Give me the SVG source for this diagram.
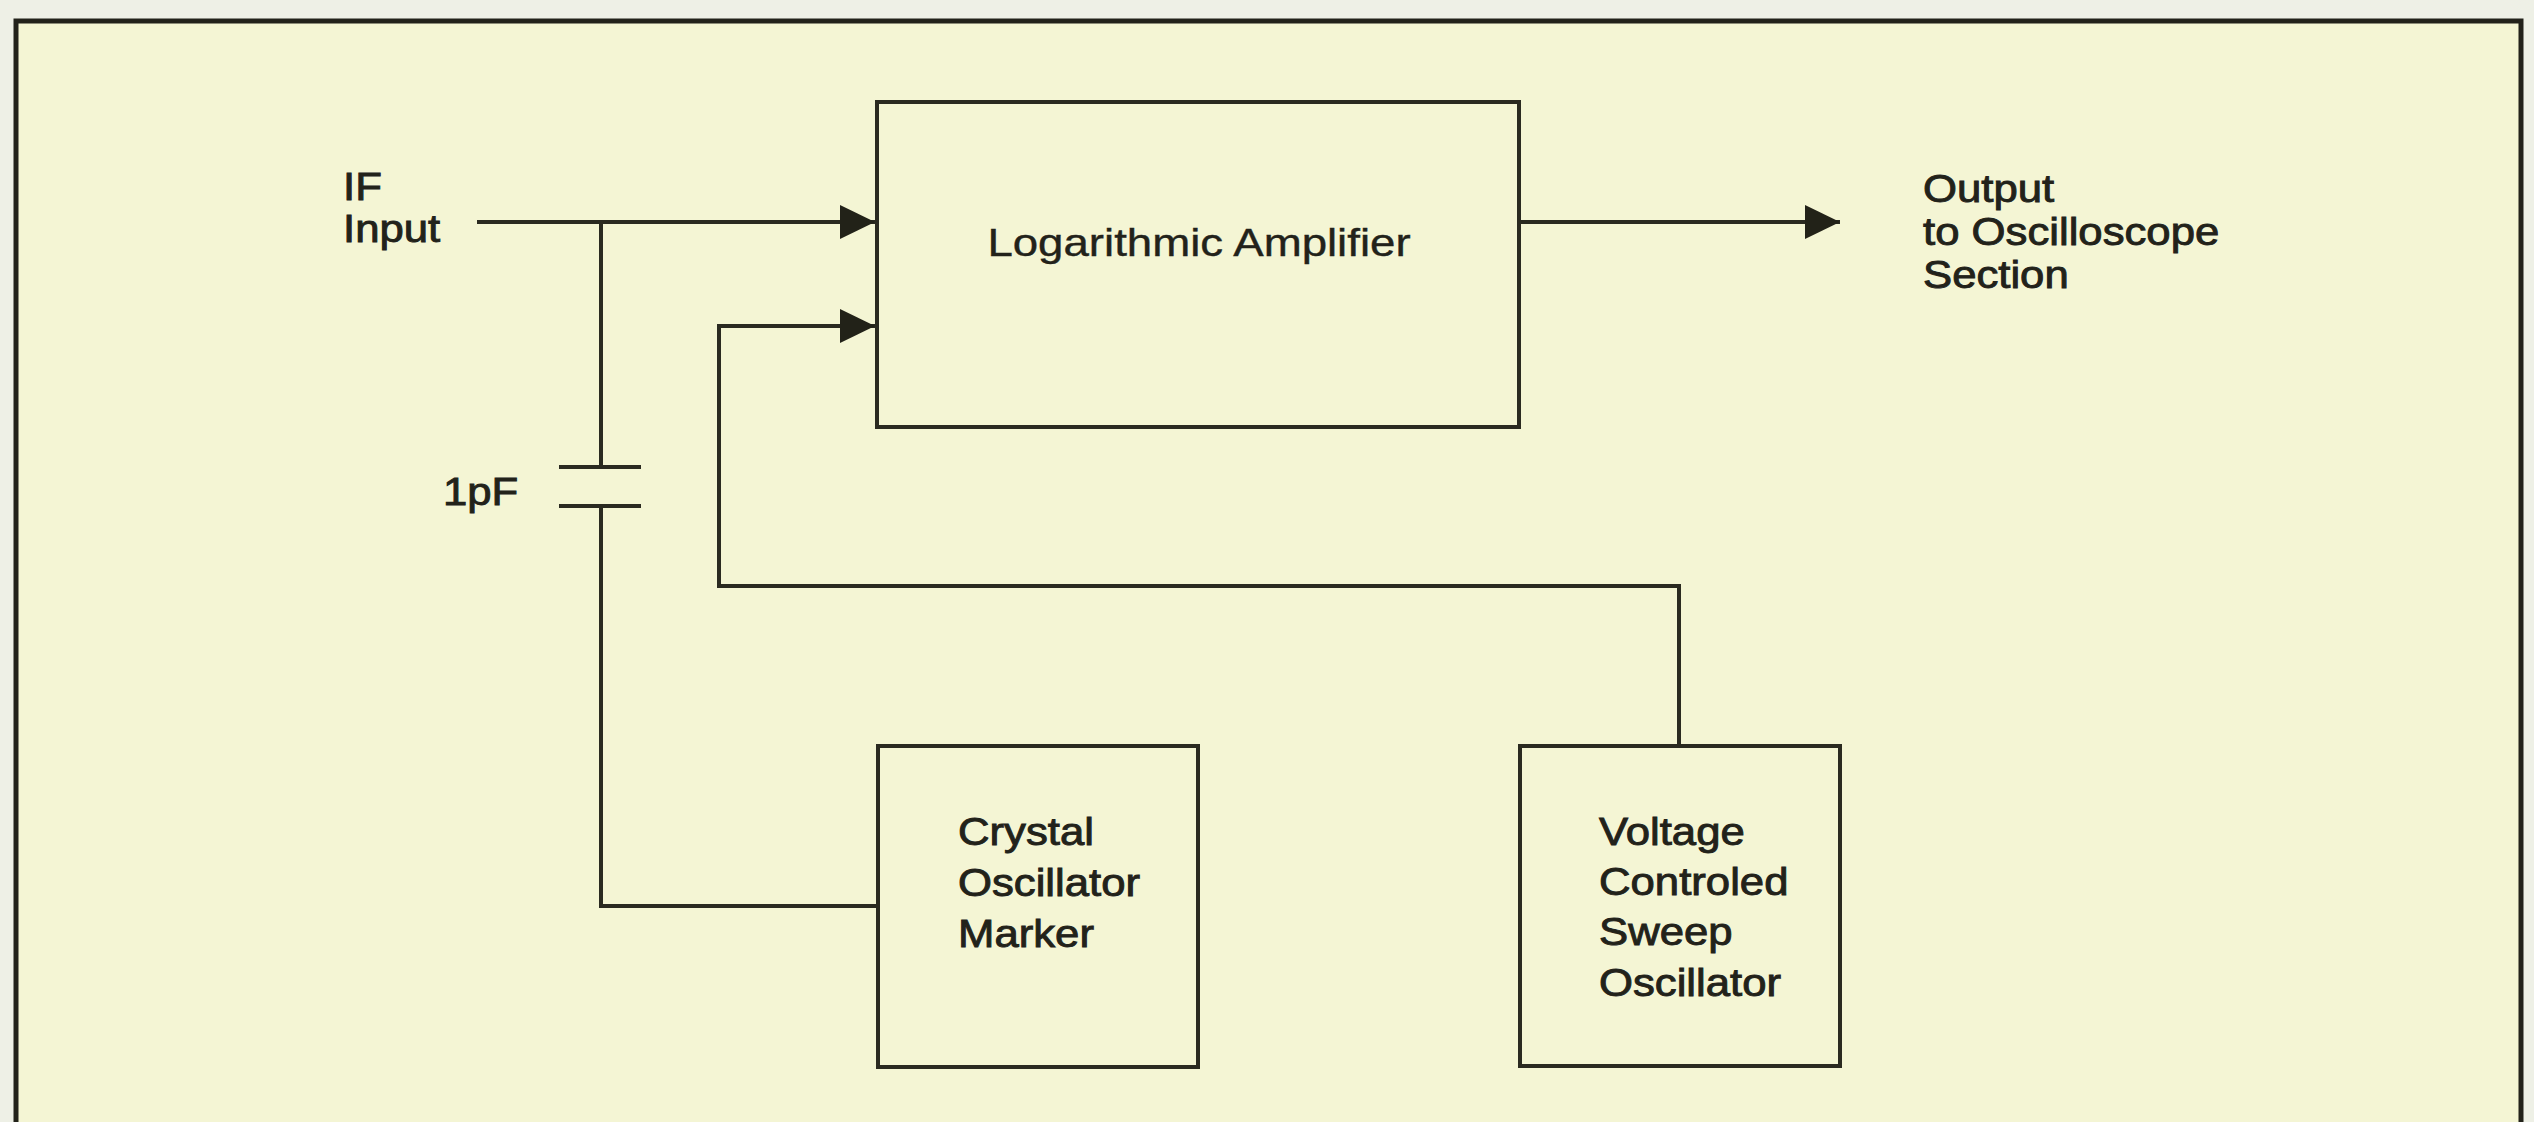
<svg xmlns="http://www.w3.org/2000/svg" width="2534" height="1122" viewBox="0 0 2534 1122">
<style>
  .box { fill: none; stroke: #2a2a20; stroke-width: 4; }
  .wire { fill: none; stroke: #2a2a20; stroke-width: 4; }
  .lbl { font-family: "Liberation Sans", Arial, sans-serif; font-size: 38px; fill: #22221a; stroke: #22221a; stroke-width: 0.9px; }
  .lt { stroke-width: 0.4px; }
</style>
<defs>
  <marker id="arrow" markerUnits="userSpaceOnUse" markerWidth="36" markerHeight="36" refX="35" refY="17" orient="auto">
    <path d="M0,0 L35,17 L0,34 Z" fill="#222218"/>
  </marker>
</defs>
<rect x="0" y="0" width="2534" height="1122" fill="#eef0e6"/>
<rect x="16" y="21" width="2505" height="1110" fill="#f4f5d4"/>
<path id="frame" d="M16,1130 V21 H2521 V1130" fill="none" stroke="#22221a" stroke-width="5"/>

<g id="connectors">
  <path class="wire" d="M477,222 H875" marker-end="url(#arrow)"/>
  <path class="wire" d="M601,222 V467"/>
  <path class="wire" d="M559,467 H641" stroke-width="5"/>
  <path class="wire" d="M559,506 H641" stroke-width="5"/>
  <path class="wire" d="M601,506 V906 H878"/>
  <path class="wire" d="M1679,746 V586 H719 V326 H875" marker-end="url(#arrow)"/>
  <path class="wire" d="M1519,222 H1840" marker-end="url(#arrow)"/>
</g>

<g id="if-input">
  <text class="lbl" transform="translate(343 200) scale(1.15 1)">IF</text>
  <text class="lbl" transform="translate(343 242) scale(1.15 1)">Input</text>
</g>

<g id="cap-label">
  <text class="lbl" transform="translate(443 505) scale(1.15 1)">1pF</text>
</g>

<g id="log-amp">
  <rect class="box" x="877" y="102" width="642" height="325"/>
  <text class="lbl lt" text-anchor="middle" transform="translate(1199 256) scale(1.2 1)">Logarithmic Amplifier</text>
</g>

<g id="output">
  <text class="lbl" transform="translate(1923 202) scale(1.15 1)">Output</text>
  <text class="lbl" transform="translate(1923 245) scale(1.15 1)">to Oscilloscope</text>
  <text class="lbl" transform="translate(1923 288) scale(1.15 1)">Section</text>
</g>

<g id="crystal-oscillator">
  <rect class="box" x="878" y="746" width="320" height="321"/>
  <text class="lbl" transform="translate(958 845) scale(1.15 1)">Crystal</text>
  <text class="lbl" transform="translate(958 896) scale(1.15 1)">Oscillator</text>
  <text class="lbl" transform="translate(958 947) scale(1.15 1)">Marker</text>
</g>

<g id="vco">
  <rect class="box" x="1520" y="746" width="320" height="320"/>
  <text class="lbl" transform="translate(1599 845) scale(1.15 1)">Voltage</text>
  <text class="lbl" transform="translate(1599 895) scale(1.15 1)">Controled</text>
  <text class="lbl" transform="translate(1599 945) scale(1.15 1)">Sweep</text>
  <text class="lbl" transform="translate(1599 996) scale(1.15 1)">Oscillator</text>
</g>
</svg>
